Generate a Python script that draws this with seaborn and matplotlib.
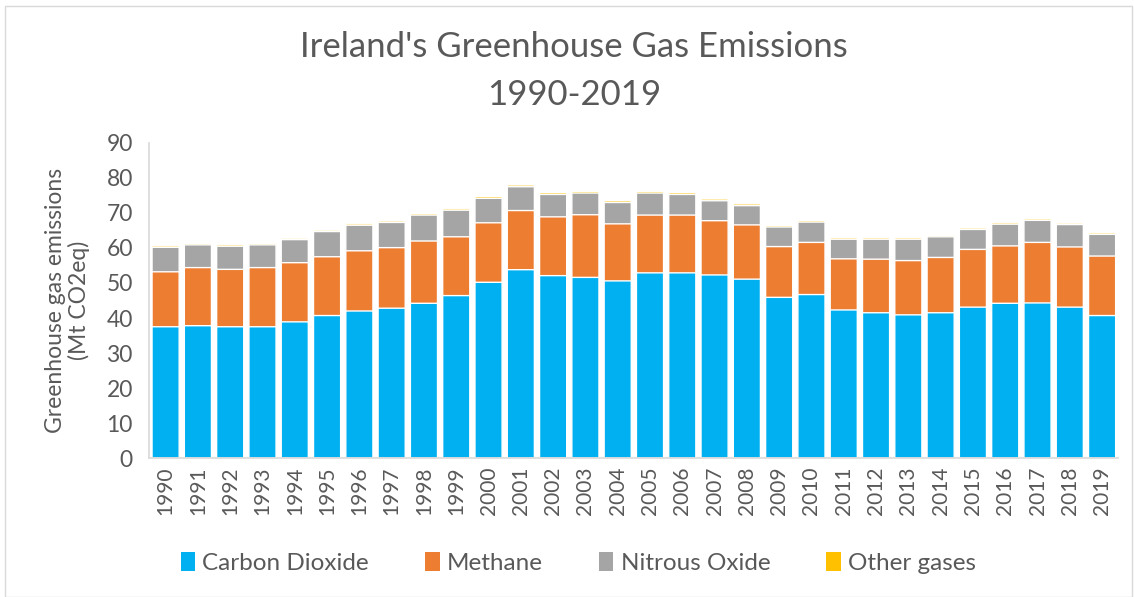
import numpy as np
import pandas as pd
import seaborn as sns
import matplotlib.pyplot as plt
from matplotlib.patches import Patch, Rectangle

# Valores (Mt CO2eq)
anos = [str(a) for a in range(1990, 2020)]
dioxido_carbono = [37.5, 37.8, 37.5, 37.5, 38.9, 40.7, 42.0, 42.8, 44.2, 46.4,
                   50.2, 53.8, 52.1, 51.6, 50.6, 52.9, 52.9, 52.3, 51.1, 45.9,
                   46.7, 42.3, 41.5, 40.9, 41.5, 43.1, 44.2, 44.3, 43.1, 40.7]
metano = [15.7, 16.6, 16.4, 16.9, 16.9, 16.8, 17.2, 17.3, 17.8, 16.8,
          17.0, 16.9, 16.8, 17.9, 16.3, 16.5, 16.5, 15.5, 15.5, 14.5,
          14.9, 14.6, 15.3, 15.5, 15.8, 16.5, 16.4, 17.3, 17.2, 17.0]
oxido_nitroso = [7.0, 6.5, 6.6, 6.5, 6.6, 7.2, 7.3, 7.2, 7.4, 7.6,
                 7.0, 6.8, 6.4, 6.2, 6.1, 6.3, 5.9, 5.7, 5.5, 5.6,
                 5.8, 5.6, 5.7, 6.1, 5.9, 5.7, 6.2, 6.3, 6.4, 6.2]
outros_gases = [0.4, 0.4, 0.4, 0.4, 0.4, 0.4, 0.4, 0.4, 0.4, 0.4,
                0.5, 0.5, 0.5, 0.5, 0.5, 0.5, 0.5, 0.5, 0.5, 0.4,
                0.4, 0.4, 0.4, 0.4, 0.4, 0.4, 0.4, 0.4, 0.4, 0.4]

series = ["Carbon Dioxide", "Methane", "Nitrous Oxide", "Other gases"]
cores = ["#00B0F0", "#ED7D31", "#A5A5A5", "#FFC000"]
COR_TEXTO = "#595959"

df = pd.DataFrame({
    "ano": anos,
    "Carbon Dioxide": dioxido_carbono,
    "Methane": metano,
    "Nitrous Oxide": oxido_nitroso,
    "Other gases": outros_gases,
})

# Somas acumuladas para empilhar (desenha a maior primeiro)
acumulado = df[series].cumsum(axis=1)

sns.set_style("white")
plt.rcParams["font.family"] = ["Lato", "DejaVu Sans"]

fig = plt.figure(figsize=(11.34, 5.97), dpi=100)
ax = fig.add_axes([0.1318, 0.2328, 0.8543, 0.5277])

for serie, cor in reversed(list(zip(series, cores))):
    sns.barplot(x=df["ano"], y=acumulado[serie], color=cor, width=0.84,
                saturation=1, snap=False, ax=ax)

ax.set_ylim(0, 90)
ax.set_xlim(-0.5, len(anos) - 0.5)
ax.set_yticks(np.arange(0, 91, 10))
ax.tick_params(axis="y", labelsize=16.5, colors=COR_TEXTO, length=0, pad=12)
ax.tick_params(axis="x", labelsize=15, colors=COR_TEXTO, length=0, pad=6,
               labelrotation=90)
ax.set_xlabel("")
ax.set_ylabel("Greenhouse gas emissions\n(Mt CO2eq)", fontsize=16.5,
              color=COR_TEXTO, labelpad=12, linespacing=1.1)

sns.despine(ax=ax)
for lado in ["left", "bottom"]:
    ax.spines[lado].set_color("#D9D9D9")
    ax.spines[lado].set_linewidth(1.2)

fig.text(0.506, 0.921, "Ireland's Greenhouse Gas Emissions", ha="center",
         va="center", fontsize=25, color=COR_TEXTO)
fig.text(0.506, 0.841, "1990-2019", ha="center", va="center", fontsize=25,
         color=COR_TEXTO)

alcas = [Patch(facecolor=c, edgecolor="none") for c in cores]
fig.legend(alcas, series, loc="center", bbox_to_anchor=(0.51, 0.057),
           ncol=4, frameon=False, fontsize=17.5, handlelength=0.6,
           handleheight=0.8, handletextpad=0.3, columnspacing=2.3,
           labelcolor=COR_TEXTO)

# Moldura leve da área do gráfico
fig.patches.append(Rectangle((0.004, 0.0), 0.994, 0.99, transform=fig.transFigure,
                             fill=False, edgecolor="#D9D9D9", linewidth=1))

plt.savefig("out.png", dpi=100)
